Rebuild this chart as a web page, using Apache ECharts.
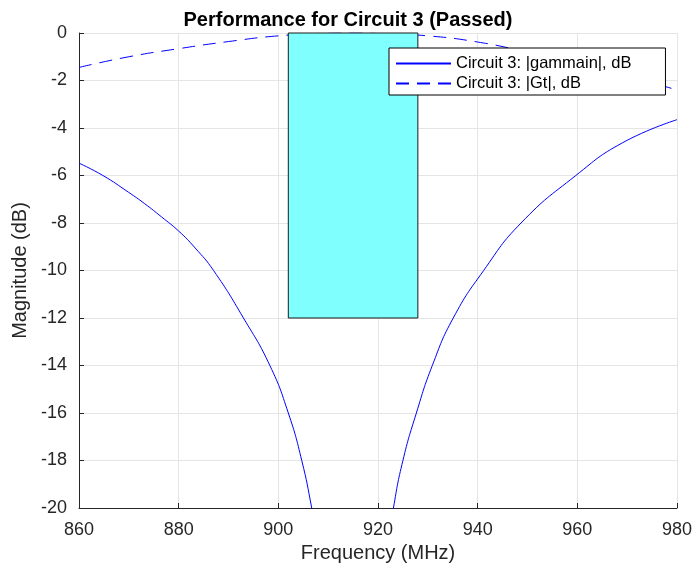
<!DOCTYPE html>
<html>
<head>
<meta charset="utf-8">
<script src="https://cdn.jsdelivr.net/npm/echarts@6/dist/echarts.min.js"></script>
<style>html,body{margin:0;padding:0;background:#fff}#c{width:693px;height:565px}</style>
</head>
<body>
<div id="c"></div>
<script>
var titleText = 'Performance for Circuit 3 (Passed)';
var xLabel = 'Frequency (MHz)';
var yLabel = 'Magnitude (dB)';
var seriesNames = ['Circuit 3: |gammain|, dB', 'Circuit 3: |Gt|, dB'];

var gammaFreq = [860, 864.8, 869.9, 873.2, 876.6, 880, 883.3, 887.0, 893.0, 898.3, 902.0, 904.7, 906.7, 908, 910, 912, 914, 915.3, 917, 919, 921, 922.3, 923.1, 925.0, 927.7, 930.9, 935.1, 941.2, 948.7, 959.7, 969.0, 980];
var gammaDb   = [-5.48, -6.0, -6.70, -7.19, -7.75, -8.34, -9.05, -10.0, -12.0, -14.0, -16.0, -18.0, -20.0, -21.6, -24.5, -29, -36, -42, -35, -28.5, -24, -21.3, -20.0, -18.0, -16.0, -14.0, -12.0, -10.0, -8.0, -6.0, -4.63, -3.65];

var gtFreq = [860, 870, 880, 890, 900, 910, 915, 920, 930, 940, 950, 960, 970, 980];
var gtDb   = [-1.45, -1.0, -0.66, -0.36, -0.12, -0.01, 0, -0.02, -0.12, -0.38, -0.8, -1.25, -1.8, -2.4];

var maskFreq = [902, 928];
var maskDb = [-12, 0];

var xTicks = [860, 880, 900, 920, 940, 960, 980];
var yTicks = [-20, -18, -16, -14, -12, -10, -8, -6, -4, -2, 0];

function pairs(xs, ys) { return xs.map(function (x, i) { return [x, ys[i]]; }); }

var chart = echarts.init(document.getElementById('c'), null, {renderer: 'canvas'});
var font = 'Liberation Sans, Arial, Helvetica, sans-serif';
chart.setOption({
  animation: false,
  backgroundColor: '#ffffff',
  textStyle: {fontFamily: font},
  title: {
    text: titleText, left: 343, top: 5, textAlign: 'center',
    textStyle: {fontFamily: font, fontSize: 20, fontWeight: 'bold', color: '#000'}
  },
  grid: {left: 79, right: 16, top: 33, bottom: 57, containLabel: false, outerBoundsMode: 'none'},
  legend: {
    orient: 'vertical', left: 389, top: 48, z: 20,
    data: seriesNames,
    backgroundColor: '#fff', borderColor: '#000', borderWidth: 1, borderRadius: 0,
    padding: [7, 34, 3, 6], itemGap: 3, itemWidth: 55, itemHeight: 14,
    itemStyle: {opacity: 0},
    textStyle: {fontFamily: font, fontSize: 16.5, color: '#000'}
  },
  xAxis: {
    type: 'value', min: xTicks[0], max: xTicks[xTicks.length - 1], interval: 20,
    name: xLabel, nameLocation: 'middle', nameGap: 35,
    nameTextStyle: {fontFamily: font, fontSize: 20, color: '#262626'},
    axisLine: {onZero: false, lineStyle: {color: '#262626', width: 1}},
    axisTick: {inside: true, length: 5, lineStyle: {color: '#262626'}},
    axisLabel: {fontFamily: font, fontSize: 18, color: '#262626', margin: 13},
    splitLine: {show: true, lineStyle: {color: '#e5e5e5', width: 1}}
  },
  yAxis: {
    type: 'value', min: yTicks[0], max: yTicks[yTicks.length - 1], interval: 2,
    name: yLabel, nameLocation: 'middle', nameGap: 39, nameRotate: 90,
    nameTextStyle: {fontFamily: font, fontSize: 20, color: '#262626'},
    axisLine: {show: true, onZero: false, lineStyle: {color: '#262626', width: 1}},
    axisTick: {show: true, inside: true, length: 5, lineStyle: {color: '#262626'}},
    axisLabel: {fontFamily: font, fontSize: 18, color: '#262626', margin: 12},
    splitLine: {show: true, lineStyle: {color: '#e5e5e5', width: 1}}
  },
  series: [
    {
      name: seriesNames[0], type: 'line', data: pairs(gammaFreq, gammaDb),
      showSymbol: false, symbol: 'none', smooth: 0.5, clip: true, z: 3,
      lineStyle: {color: '#0000ff', width: 1}, itemStyle: {color: '#0000ff'}
    },
    {
      name: seriesNames[1], type: 'line', data: pairs(gtFreq, gtDb),
      showSymbol: false, symbol: 'none', smooth: 0.5, clip: true, z: 3,
      lineStyle: {color: '#0000ff', width: 1, type: [13, 8]}, itemStyle: {color: '#0000ff'}
    },
    {
      type: 'custom', z: 5, silent: true,
      data: [[maskFreq[0], maskDb[0], maskFreq[1], maskDb[1]]],
      renderItem: function (params, api) {
        var p1 = api.coord([api.value(0), api.value(3)]);
        var p2 = api.coord([api.value(2), api.value(1)]);
        return {
          type: 'rect',
          shape: {x: p1[0], y: p1[1], width: p2[0] - p1[0], height: p2[1] - p1[1]},
          style: {fill: '#80ffff', stroke: '#1a1a1a', lineWidth: 1}
        };
      }
    }
  ]
});
</script>
</body>
</html>
